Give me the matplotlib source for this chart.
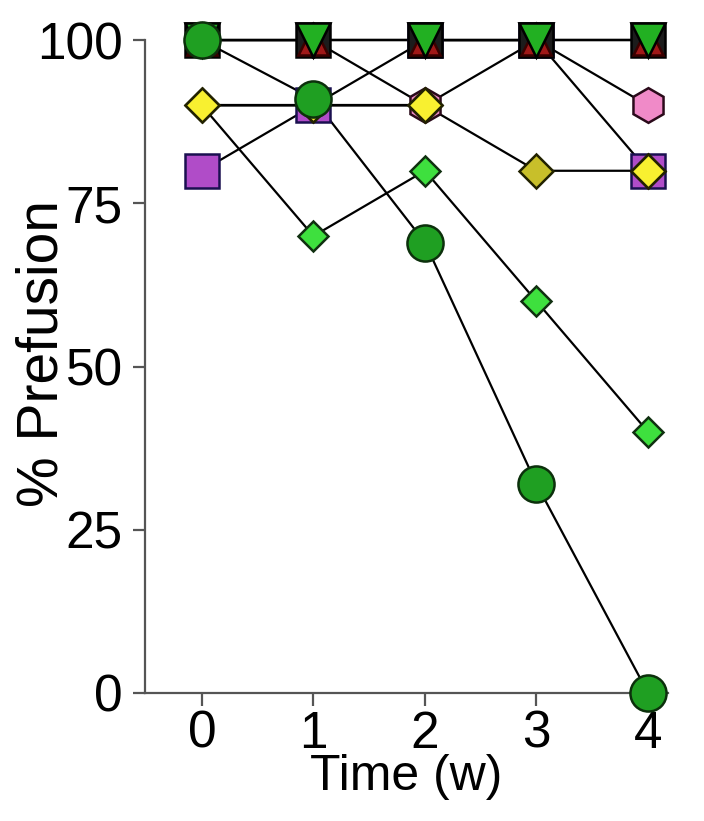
import matplotlib.pyplot as plt
import numpy as np

plt.rcParams['font.family'] = ['Liberation Sans', 'DejaVu Sans']

# Weeks after infection
weeks = [0, 1, 2, 3, 4]
week_labels = ['0', '1', '2', '3', '4']
y_ticks = [0, 25, 50, 75, 100]

# % prefusion per animal
hex_pink = [100, 100, 90, 100, 90]
sq_purple = [80, 90, 100, 100, 80]
dia_green = [90, 70, 80, 60, 40]
dia_olive = [90, 90, 90, 80, 80]
dia_yellow = [90, 90, 90, np.nan, 80]
sq_black = [100, 100, 100, 100, 100]
tri_red = [100, 100, 100, 100, 100]
tri_green = [100, 100, 100, 100, 100]
circ_green = [100, 91, 69, 32, 0]

fig = plt.figure(figsize=(7.04, 8.21), dpi=100)
ax = fig.add_axes([0.206, 0.156, 0.743, 0.795])

# (values, marker, fill, size, edge colour) - drawn bottom to top
series = [
    (hex_pink, 'h', '#f08ac8', 25, '#2a0a1a'),
    (sq_purple, 's', '#b04cc8', 25, '#1a1050'),
    (dia_green, 'D', '#3ee03e', 15.5, '#103010'),
    (dia_olive, 'D', '#c8bf2a', 17, '#222200'),
    (dia_yellow, 'D', '#f8f030', 17, '#222200'),
    (sq_black, 's', '#1c1c1c', 25, 'black'),
    (tri_red, '^', '#a01818', 21, '#3a0000'),
    (tri_green, 'v', '#22b022', 24, 'black'),
    (circ_green, 'o', '#1f9f22', 26, '#0c300c'),
]

# connecting lines first, under every marker
for vals, mk, fc, ms, ec in series:
    ax.plot(weeks, vals, color='black', linewidth=1.6, clip_on=False, zorder=2)

for i, (vals, mk, fc, ms, ec) in enumerate(series):
    ax.plot(weeks, vals, linestyle='none', marker=mk,
            markersize=ms, markerfacecolor=fc, markeredgecolor=ec,
            markeredgewidth=1.8, clip_on=False, zorder=3 + i)

ax.set_xlim(-0.51, 4.18)
ax.set_ylim(0, 100)
ax.set_xticks(weeks)
ax.set_xticklabels(week_labels)
ax.set_yticks(y_ticks)

for side in ['top', 'right']:
    ax.spines[side].set_visible(False)
for side in ['left', 'bottom']:
    ax.spines[side].set_color('#555555')
    ax.spines[side].set_linewidth(1.6)

ax.tick_params(axis='both', direction='out', length=9, width=1.6,
               color='#555555', labelsize=37)
ax.tick_params(axis='y', pad=7)
ax.tick_params(axis='x', pad=3)

ax.set_xlabel('Time (w)', fontsize=36, labelpad=-3)
ax.set_ylabel('% Prefusion', fontsize=41)
ax.yaxis.set_label_coords(-0.145, 0.52)

fig.savefig('out.png', dpi=100)
